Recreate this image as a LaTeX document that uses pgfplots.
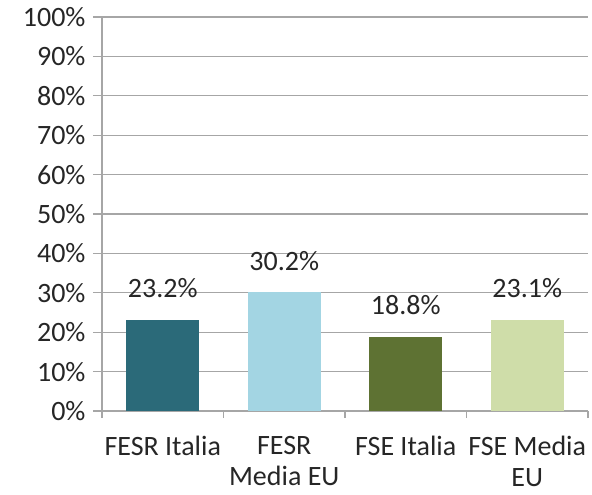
\documentclass[border=0pt]{standalone}
\usepackage{fontspec}
\setmainfont{Carlito}
\usepackage{pgfplots}
\pgfplotsset{compat=1.18}
\definecolor{c1}{HTML}{2B6A79}
\definecolor{c2}{HTML}{A3D5E3}
\definecolor{c3}{HTML}{5E7233}
\definecolor{c4}{HTML}{CFDDA9}
\definecolor{gridc}{HTML}{A6A6A6}
\begin{document}
\begin{tikzpicture}
\begin{axis}[
  scale only axis,
  width=486pt, height=394pt,
  xmin=-0.5, xmax=3.5,
  ymin=0, ymax=100,
  ytick={0,10,...,100},
  yticklabel={\pgfmathprintnumber[assume math mode=true]{\tick}\%},
  ymajorgrids,
  grid style={gridc, line width=1.2pt},
  axis line style={gridc, line width=1.2pt},
  axis x line*=bottom,
  axis y line*=left,
  tick style={gridc, line width=1.2pt},
  major tick length=9pt,
  tick align=outside,
  tick label style={font=\fontsize{28}{31}\selectfont, text=black!85},
  y tick label style={xshift=-4pt},
  xtick={0,1,2,3},
  xticklabels={FESR Italia, FESR\\Media EU, FSE Italia, FSE Media\\EU},
  x tick label style={align=center, yshift=-13pt},
  major x tick style={draw=none},
  extra x ticks={-0.5,0.5,1.5,2.5,3.5},
  extra x tick labels={},
  extra x tick style={major tick length=7pt, major x tick style={draw=gridc}, grid=none},
  ybar, bar width=73pt, bar shift=0pt,
  nodes near coords={\pgfmathprintnumber[fixed, fixed zerofill, precision=1, assume math mode=true]{\pgfplotspointmeta}\%},
  every node near coord/.append style={font=\fontsize{28}{32}\selectfont, text=black!85, anchor=base, inner sep=0pt, yshift=22pt},
]
\addplot[fill=c1, draw=none] coordinates {(0,23.2)};
\addplot[fill=c2, draw=none] coordinates {(1,30.2)};
\addplot[fill=c3, draw=none] coordinates {(2,18.8)};
\addplot[fill=c4, draw=none] coordinates {(3,23.1)};
\end{axis}
\pgfresetboundingbox
\path[use as bounding box] ([xshift=-102pt,yshift=-84pt]current axis.south west) rectangle ([xshift=4pt,yshift=17pt]current axis.north east);
\end{tikzpicture}
\end{document}
